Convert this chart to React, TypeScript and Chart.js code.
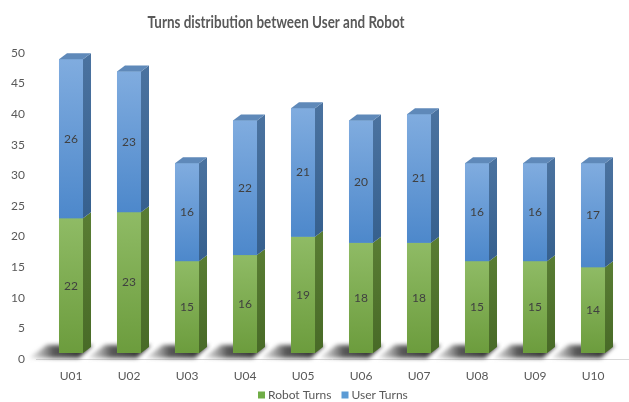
import { useEffect, useRef } from "react";
import { Chart, registerables } from "chart.js";

Chart.register(...registerables);

const titleText = "Turns distribution between User and Robot";
const categories = ["U01", "U02", "U03", "U04", "U05", "U06", "U07", "U08", "U09", "U10"];
const seriesNames = ["Robot Turns", "User Turns"];
const robotTurns = [22, 23, 15, 16, 19, 18, 18, 15, 15, 14];
const userTurns = [26, 23, 16, 22, 21, 20, 21, 16, 16, 17];
const yMax = 50;
const yStep = 5;

const FONT = "Lato, 'Open Sans', sans-serif";
const TEXT = "#595959";

// depth of the extruded columns
const DX = 8;
const DY = 6;

type Face = { key: string; front: [string, string]; side: [string, string]; top: string };
const faces: Face[] = [
  { key: "#70ad47", front: ["#8fbb65", "#6c9c3d"], side: ["#587c33", "#486a27"], top: "#6f9a45" },
  { key: "#5b9bd5", front: ["#80acdf", "#4d88cb"], side: ["#4a729f", "#36608e"], top: "#5f89b9" },
];

const columns3d = {
  id: "columns3d",
  beforeDatasetsDraw(chart: any) {
    const ctx: CanvasRenderingContext2D = chart.ctx;
    const meta = chart.getDatasetMeta(0);
    ctx.save();
    // floor line
    const base0 = meta.data[0].getProps(["base"], true).base;
    ctx.strokeStyle = "#d9d9d9";
    ctx.lineWidth = 1;
    ctx.beginPath();
    ctx.moveTo(36, Math.round(base0 + 6) + 0.5);
    ctx.lineTo(chart.width, Math.round(base0 + 6) + 0.5);
    ctx.stroke();
    // cast shadows on the floor
    ctx.filter = "blur(2px)";
    meta.data.forEach((el: any) => {
      const { x, width, base } = el.getProps(["x", "width", "base"], true);
      const left = x - width / 2;
      const right = x + width / 2;
      const yT = base - 8;
      const yB = base + 5;
      const g = ctx.createLinearGradient(left - 30, 0, right, 0);
      g.addColorStop(0, "rgba(140,140,140,0.2)");
      g.addColorStop(0.45, "rgba(60,60,60,0.85)");
      g.addColorStop(1, "rgba(40,40,40,0.95)");
      ctx.fillStyle = g;
      ctx.beginPath();
      ctx.moveTo(left - 12, yT);
      ctx.lineTo(right + DX + 2, yT);
      ctx.lineTo(right + DX - 12, yB);
      ctx.lineTo(left - 30, yB);
      ctx.closePath();
      ctx.fill();
    });
    ctx.restore();
  },
  afterDatasetsDraw(chart: any) {
    const ctx: CanvasRenderingContext2D = chart.ctx;
    const n = chart.data.datasets.length;
    ctx.save();
    for (let d = 0; d < n; d++) {
      const meta = chart.getDatasetMeta(d);
      const f = faces[d];
      const values = chart.data.datasets[d].data as number[];
      meta.data.forEach((el: any, i: number) => {
        const { x, y, width, base } = el.getProps(["x", "y", "width", "base"], true);
        const left = x - width / 2;
        const right = x + width / 2;
        // front
        const gf = ctx.createLinearGradient(0, y, 0, base);
        gf.addColorStop(0, f.front[0]);
        gf.addColorStop(1, f.front[1]);
        ctx.fillStyle = gf;
        ctx.fillRect(left, y, width, base - y);
        // side
        const gs = ctx.createLinearGradient(0, y, 0, base);
        gs.addColorStop(0, f.side[0]);
        gs.addColorStop(1, f.side[1]);
        ctx.fillStyle = gs;
        ctx.beginPath();
        ctx.moveTo(right, y);
        ctx.lineTo(right + DX, y - DY);
        ctx.lineTo(right + DX, base - DY);
        ctx.lineTo(right, base);
        ctx.closePath();
        ctx.fill();
        // top cap on the uppermost segment
        if (d === n - 1) {
          ctx.fillStyle = f.top;
          ctx.beginPath();
          ctx.moveTo(left, y);
          ctx.lineTo(left + DX, y - DY);
          ctx.lineTo(right + DX, y - DY);
          ctx.lineTo(right, y);
          ctx.closePath();
          ctx.fill();
        }
        // value label
        ctx.fillStyle = "#404040";
        ctx.font = `12px ${FONT}`;
        ctx.textAlign = "center";
        ctx.textBaseline = "middle";
        ctx.fillText(String(values[i]), x, (y + base) / 2);
      });
    }
    ctx.restore();
  },
  afterDraw(chart: any) {
    const ctx: CanvasRenderingContext2D = chart.ctx;
    ctx.save();
    // title
    ctx.fillStyle = TEXT;
    ctx.font = `bold 17px ${FONT}`;
    ctx.textAlign = "center";
    ctx.textBaseline = "middle";
    ctx.fillText(titleText, 276, 23, 257);
    // legend
    ctx.font = `12px ${FONT}`;
    ctx.textAlign = "left";
    let lx = 258;
    const ly = 395;
    chart.data.datasets.forEach((ds: any, d: number) => {
      ctx.fillStyle = faces[d].key;
      ctx.fillRect(lx, ly - 3.5, 7, 7);
      ctx.fillStyle = TEXT;
      ctx.fillText(ds.label, lx + 10, ly);
      lx += 10 + ctx.measureText(ds.label).width + 10;
    });
    ctx.restore();
  },
};

export default function App() {
  const ref = useRef<HTMLCanvasElement | null>(null);

  useEffect(() => {
    if (!ref.current) return;
    const chart = new Chart(ref.current, {
      type: "bar",
      data: {
        labels: categories,
        datasets: [
          { label: seriesNames[0], data: robotTurns, backgroundColor: faces[0].key, borderWidth: 0 },
          { label: seriesNames[1], data: userTurns, backgroundColor: faces[1].key, borderWidth: 0 },
        ],
      },
      options: {
        animation: false,
        responsive: false,
        maintainAspectRatio: false,
        datasets: { bar: { categoryPercentage: 1, barPercentage: 0.414 } },
        layout: { padding: { top: 47, right: 7, left: 0, bottom: 0 } },
        plugins: {
          title: { display: false },
          tooltip: { enabled: false },
          legend: { display: false },
        },
        scales: {
          x: {
            stacked: true,
            grid: { display: false, drawTicks: false },
            border: { display: false },
            ticks: { color: TEXT, font: { family: FONT, size: 12 }, padding: 16 },
            afterFit: (s: any) => {
              s.height = 49;
            },
          },
          y: {
            stacked: true,
            min: 0,
            max: yMax,
            grid: { display: false, drawTicks: false },
            border: { display: false },
            ticks: {
              stepSize: yStep,
              color: TEXT,
              font: { family: FONT, size: 12 },
              padding: 17,
              labelOffset: 6,
            },
            afterFit: (s: any) => {
              s.width = 42;
            },
          },
        },
      },
      plugins: [columns3d],
    });
    return () => chart.destroy();
  }, []);

  return (
    <div style={{ position: "fixed", inset: 0, background: "#fff" }}>
      <canvas ref={ref} width={629} height={402} style={{ display: "block" }} />
    </div>
  );
}
